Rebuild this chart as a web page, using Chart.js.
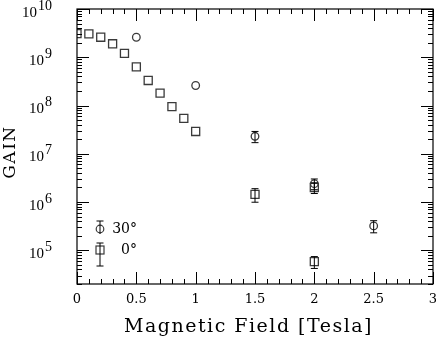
<!DOCTYPE html>
<html>
<head>
<meta charset="utf-8">
<script src="https://cdn.jsdelivr.net/npm/chart.js@4/dist/chart.umd.min.js"></script>
<style>
  html, body { margin: 0; padding: 0; background: #fff; }
</style>
</head>
<body>
<canvas id="gainChart" width="436" height="338"></canvas>
<script>
// =========================
// DATA
// =========================
// 0 degree run (squares)
const field0 = [0, 0.1, 0.2, 0.3, 0.4, 0.5, 0.6, 0.7, 0.8, 0.9, 1.0, 1.5, 2.0, 2.0];
const gain0  = [3.1e9, 3.05e9, 2.6e9, 1.9e9, 1.2e9, 6.3e8, 3.3e8, 1.8e8, 9.5e7, 5.4e7, 2.9e7, 1.44e6, 2.0e6, 5.8e4];
const err0   = [0, 0, 0, 0, 0, 0, 0, 0, 0, 0, 0, 4.5e5, 5e5, 1.6e4];

// 30 degree run (circles)
const field30 = [0.5, 1.0, 1.5, 2.0, 2.5];
const gain30  = [2.6e9, 2.6e8, 2.3e7, 2.4e6, 3.2e5];
const err30   = [0, 0, 6e6, 6e5, 9e4];

const xTickValues = [0, 0.5, 1, 1.5, 2, 2.5, 3];
const yDecades = [5, 6, 7, 8, 9, 10];
const legendLabels = ["30°", "0°"];

const INK = "#000";
const SYMBOL = "#3a3a3a";

// =========================
// PLUGINS
// =========================
// frame + inward ticks on all four sides
const framePlugin = {
    id: "frame",
    afterDatasetsDraw(chart) {
        const { ctx, chartArea: a, scales } = chart;
        const xs = scales.x, ys = scales.y;
        ctx.save();
        ctx.strokeStyle = INK;
        ctx.lineWidth = 1.2;
        ctx.strokeRect(a.left, a.top, a.right - a.left, a.bottom - a.top);

        ctx.lineWidth = 1;
        ctx.beginPath();
        // x ticks every 0.1, major every 0.5
        for (let i = 0; i <= 30; i++) {
            const px = Math.round(xs.getPixelForValue(i / 10)) + 0.5;
            const len = i % 5 === 0 ? 12 : 5;
            ctx.moveTo(px, a.bottom); ctx.lineTo(px, a.bottom - len);
            ctx.moveTo(px, a.top); ctx.lineTo(px, a.top + len);
        }
        // y ticks at 1..9 x 10^n
        for (let e = 4; e <= 10; e++) {
            for (let m = 1; m <= 9; m++) {
                const v = m * Math.pow(10, e);
                if (v < ys.min || v > ys.max) continue;
                const py = Math.round(ys.getPixelForValue(v)) + 0.5;
                const len = m === 1 ? 12 : 5;
                ctx.moveTo(a.left, py); ctx.lineTo(a.left + len, py);
                ctx.moveTo(a.right, py); ctx.lineTo(a.right - len, py);
            }
        }
        ctx.stroke();
        ctx.restore();
    }
};

// vertical error bars with caps
const errorBarPlugin = {
    id: "errorBars",
    afterDatasetsDraw(chart) {
        const { ctx, scales } = chart;
        ctx.save();
        ctx.strokeStyle = INK;
        ctx.lineWidth = 1;
        chart.data.datasets.forEach(ds => {
            ds.data.forEach((p, i) => {
                const err = ds.errors[i];
                if (!err) return;
                const px = scales.x.getPixelForValue(p.x);
                const top = scales.y.getPixelForValue(p.y + err);
                const bot = scales.y.getPixelForValue(p.y - err);
                ctx.beginPath();
                ctx.moveTo(px, top); ctx.lineTo(px, bot);
                ctx.moveTo(px - 3.5, top); ctx.lineTo(px + 3.5, top);
                ctx.moveTo(px - 3.5, bot); ctx.lineTo(px + 3.5, bot);
                ctx.stroke();
            });
        });
        ctx.restore();
    }
};

// tick labels, axis titles, legend
const textPlugin = {
    id: "texts",
    afterDraw(chart) {
        const { ctx, chartArea: a, scales } = chart;
        ctx.save();
        ctx.fillStyle = INK;

        // x labels
        ctx.font = "13px 'DejaVu Serif'";
        ctx.textAlign = "center";
        ctx.textBaseline = "middle";
        xTickValues.forEach(v => {
            ctx.fillText(String(v), scales.x.getPixelForValue(v), a.bottom + 16);
        });

        // y labels (10 with superscript)
        ctx.textAlign = "left";
        ctx.textBaseline = "alphabetic";
        yDecades.forEach(e => {
            const py = scales.y.getPixelForValue(Math.pow(10, e));
            ctx.font = "15px 'Liberation Serif'";
            const wBase = ctx.measureText("10").width;
            ctx.font = "14px 'Liberation Serif'";
            const wSup = ctx.measureText(String(e)).width;
            const x0 = 52 - wBase - wSup - 1;
            ctx.font = "15px 'Liberation Serif'";
            ctx.fillText("10", x0, py + 7.5);
            ctx.font = "14px 'Liberation Serif'";
            ctx.fillText(String(e), x0 + wBase + 1, py + 0.5);
        });

        // x title
        ctx.font = "19px 'DejaVu Serif'";
        ctx.letterSpacing = "1.5px";
        ctx.fillText("Magnetic Field [Tesla]", 124, 332);

        // y title
        ctx.save();
        ctx.font = "17px 'DejaVu Serif'";
        ctx.translate(15, 152);
        ctx.rotate(-Math.PI / 2);
        ctx.textAlign = "center";
        ctx.fillText("GAIN", 0, 0);
        ctx.restore();
        ctx.letterSpacing = "0px";

        // legend
        const lx = a.left + 23;
        const rows = [229, 250];
        ctx.strokeStyle = SYMBOL;
        ctx.lineWidth = 1.2;
        ctx.beginPath();
        ctx.arc(lx, rows[0], 3.8, 0, Math.PI * 2);
        ctx.stroke();
        ctx.strokeRect(lx - 4, rows[1] - 4, 8, 8);
        ctx.strokeStyle = INK;
        ctx.lineWidth = 1;
        ctx.beginPath();
        ctx.moveTo(lx, 221); ctx.lineTo(lx, 234);
        ctx.moveTo(lx - 3.5, 221); ctx.lineTo(lx + 3.5, 221);
        ctx.moveTo(lx, 243); ctx.lineTo(lx, 266);
        ctx.moveTo(lx - 3.5, 243); ctx.lineTo(lx + 3.5, 243);
        ctx.moveTo(lx - 3.5, 266); ctx.lineTo(lx + 3.5, 266);
        ctx.stroke();

        ctx.font = "14px 'DejaVu Serif'";
        ctx.textAlign = "right";
        ctx.textBaseline = "middle";
        ctx.fillText(legendLabels[0], 137, rows[0]);
        ctx.fillText(legendLabels[1], 137, rows[1]);
        ctx.restore();
    }
};

// =========================
// CHART
// =========================
new Chart(document.getElementById("gainChart"), {
    type: "scatter",
    data: {
        datasets: [
            {
                label: legendLabels[1],
                data: field0.map((x, i) => ({ x, y: gain0[i] })),
                errors: err0,
                pointStyle: "rect",
                pointRadius: 5.7,
                borderColor: SYMBOL,
                borderWidth: 1.3,
                backgroundColor: "rgba(0,0,0,0)",
                clip: 0
            },
            {
                label: legendLabels[0],
                data: field30.map((x, i) => ({ x, y: gain30[i] })),
                errors: err30,
                pointStyle: "circle",
                pointRadius: 3.8,
                borderColor: SYMBOL,
                borderWidth: 1.3,
                backgroundColor: "rgba(0,0,0,0)",
                clip: 0
            }
        ]
    },
    options: {
        responsive: false,
        animation: false,
        devicePixelRatio: 1,
        layout: { autoPadding: false, padding: { top: 9, right: 3, left: 0, bottom: 0 } },
        plugins: { legend: { display: false }, tooltip: { enabled: false } },
        scales: {
            x: {
                type: "linear",
                min: 0,
                max: 3,
                afterFit: s => { s.height = 54; },
                grid: { display: false, drawTicks: false },
                border: { display: false },
                ticks: { display: false }
            },
            y: {
                type: "logarithmic",
                min: 2e4,
                max: 1e10,
                afterFit: s => { s.width = 77; },
                grid: { display: false, drawTicks: false },
                border: { display: false },
                ticks: { display: false }
            }
        }
    },
    plugins: [framePlugin, errorBarPlugin, textPlugin]
});
</script>
</body>
</html>
